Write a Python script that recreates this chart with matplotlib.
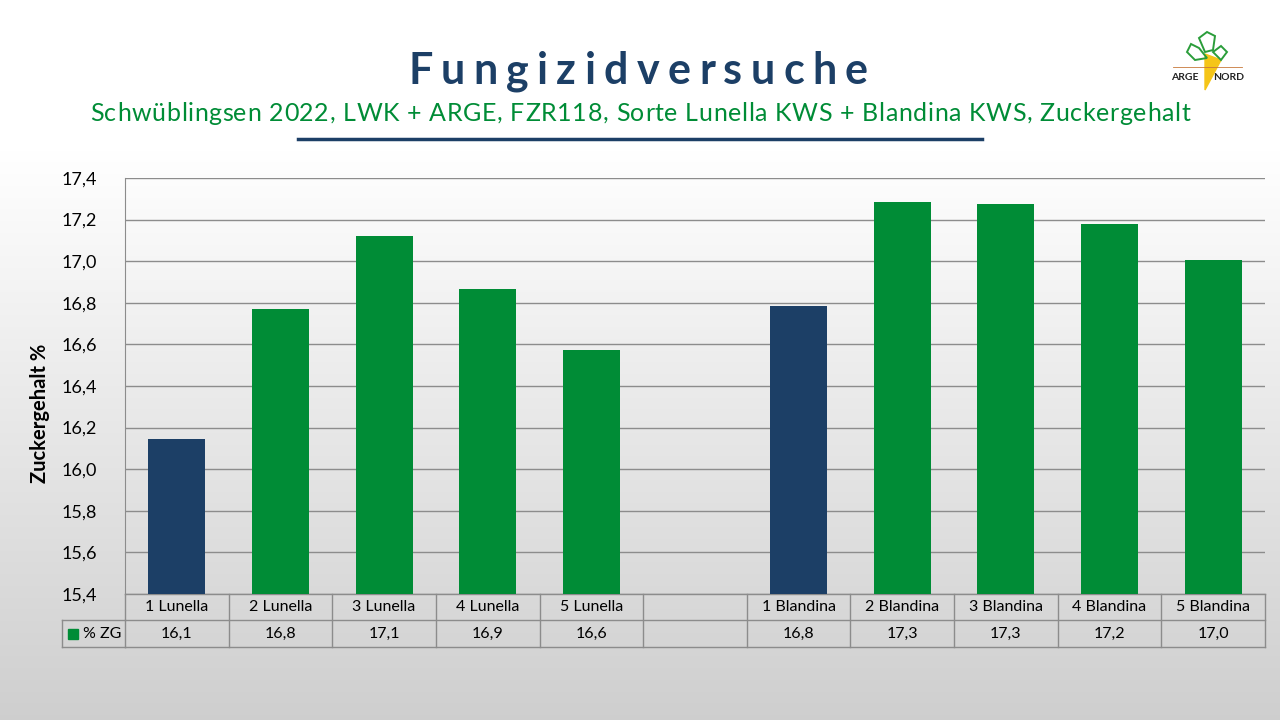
import numpy as np
import matplotlib.pyplot as plt
from matplotlib.patches import Polygon
import matplotlib.transforms as mtransforms

# data
categories = ["1 Lunella", "2 Lunella", "3 Lunella", "4 Lunella", "5 Lunella", "",
              "1 Blandina", "2 Blandina", "3 Blandina", "4 Blandina", "5 Blandina"]
zg = [16.145, 16.77, 17.12, 16.865, 16.575, np.nan, 16.785, 17.285, 17.275, 17.18, 17.005]
table_labels = ["16,1", "16,8", "17,1", "16,9", "16,6", "", "16,8", "17,3", "17,3", "17,2", "17,0"]
yticks = [15.4, 15.6, 15.8, 16.0, 16.2, 16.4, 16.6, 16.8, 17.0, 17.2, 17.4]

blue = "#1c3f66"
green = "#008c36"
colors = [blue if c.startswith("1 ") else green for c in categories]

plt.rcParams['font.family'] = ['Lato', 'DejaVu Sans']

fig = plt.figure(figsize=(12.8, 7.2), dpi=100)

# background gradient
bg = fig.add_axes([0, 0, 1, 1], zorder=-10)
grad = np.ones((720, 1))
rows = np.arange(720)
grad[:, 0] = np.where(rows < 150, 1.0, 1.0 - (rows - 150) / (720 - 150) * 0.19)
bg.imshow(np.dstack([grad, grad, grad]), aspect='auto', extent=[0, 1, 0, 1], origin='upper')
bg.axis('off')

ax = fig.add_axes([125 / 1280, (720 - 594) / 720, 1140 / 1280, 416 / 720])
ax.patch.set_alpha(0)
x = np.arange(len(categories))
ax.bar(x, np.nan_to_num(np.array(zg) - 15.4), bottom=15.4, width=0.55, color=colors, zorder=3)
ax.set_xlim(-0.5, len(categories) - 0.5)
ax.set_ylim(15.4, 17.4)
ax.set_yticks(yticks)
ax.set_yticklabels([f"{v:.1f}".replace(".", ",") for v in yticks], fontsize=13)
ax.yaxis.grid(True, color="#8c8c8c", linewidth=1, zorder=0)
ax.tick_params(axis='y', length=0, pad=20)
ax.set_xticks([])
for s in ["top", "right", "bottom"]:
    ax.spines[s].set_visible(False)
ax.spines["left"].set_color("#8c8c8c")
ax.set_ylabel("Zuckergehalt %", fontsize=14.5, fontweight="bold")
ax.yaxis.set_label_coords(-0.066, 0.435)

# data table below the axis
tr = mtransforms.blended_transform_factory(ax.transData, ax.transAxes)
h1 = 26 / 416
h2 = 53 / 416
lc = "#8c8c8c"
n = len(categories)
for yy in [0, -h1, -h2]:
    ax.plot([-0.5, n - 0.5], [yy, yy], color=lc, lw=1, transform=tr, clip_on=False)
leg_left = -63 / 1140
ax.plot([leg_left, 0], [-h1, -h1], color=lc, lw=1, transform=ax.transAxes, clip_on=False)
ax.plot([leg_left, 0], [-h2, -h2], color=lc, lw=1, transform=ax.transAxes, clip_on=False)
ax.plot([leg_left, leg_left], [-h1, -h2], color=lc, lw=1, transform=ax.transAxes, clip_on=False)
for i in range(n + 1):
    ax.plot([i - 0.5, i - 0.5], [0, -h2], color=lc, lw=1, transform=tr, clip_on=False)
for i, (c, v) in enumerate(zip(categories, table_labels)):
    ax.text(i, -h1 / 2, c, ha="center", va="center", fontsize=11.5, transform=tr)
    ax.text(i, -(h1 + h2) / 2, v, ha="center", va="center", fontsize=11.5, transform=tr)
ax.plot([-52 / 1140], [-(h1 + h2) / 2], marker="s", color=green, markersize=7,
        transform=ax.transAxes, clip_on=False)
ax.text(-42 / 1140, -(h1 + h2) / 2, "% ZG", ha="left", va="center", fontsize=11.5,
        transform=ax.transAxes)


def spaced_text(s, left, right, ybase, size, weight, color):
    # place characters one by one so the line fills a given width
    fig.canvas.draw()
    r = fig.canvas.get_renderer()
    ws = []
    for ch in s:
        t = fig.text(0, 0, ch, fontsize=size, fontweight=weight)
        w = t.get_window_extent(r).width
        if ch == " ":
            t.set_text("a a")
            w = t.get_window_extent(r).width
            t.set_text("aa")
            w -= t.get_window_extent(r).width
        ws.append(w)
        t.remove()
    sp = (right - left - sum(ws)) / (len(s) - 1)
    xp = left
    for ch, w in zip(s, ws):
        fig.text(xp / 1280, 1 - ybase / 720, ch, fontsize=size, fontweight=weight,
                 color=color, ha="left", va="baseline")
        xp += w + sp


spaced_text("Fungizidversuche", 408, 868, 84, 31, "bold", blue)
spaced_text("Schwüblingsen 2022, LWK + ARGE, FZR118, Sorte Lunella KWS + Blandina KWS, Zuckergehalt",
            90, 1190, 121, 18, "normal", green)
fig.add_artist(plt.Line2D([298 / 1280, 982 / 1280], [1 - 139 / 720] * 2, color=blue, lw=2.5))

# simple logo
lg = fig.add_axes([1165 / 1280, 1 - 92 / 720, 85 / 1280, 62 / 720])
lg.set_xlim(0, 85)
lg.set_ylim(62, 0)
lg.axis('off')
lg.add_patch(Polygon([[40, 24], [56, 30], [40, 60]], closed=True, color="#f5c518"))
lg.add_patch(Polygon([[22, 22], [26, 14], [34, 18], [42, 28], [30, 30]], closed=True,
                     fill=False, edgecolor="#2a9d3a", lw=1.4))
lg.add_patch(Polygon([[34, 8], [42, 2], [50, 6], [48, 20], [40, 22]], closed=True,
                     fill=False, edgecolor="#2a9d3a", lw=1.4))
lg.add_patch(Polygon([[48, 22], [56, 16], [62, 22], [56, 30]], closed=True,
                     fill=False, edgecolor="#2a9d3a", lw=1.4))
lg.plot([8, 77], [37, 37], color="#c8783a", lw=0.6)
lg.text(20, 48, "ARGE", fontsize=7.5, fontweight="bold", color="#222222", ha="center", va="center")
lg.text(64, 48, "NORD", fontsize=7.5, fontweight="bold", color="#222222", ha="center", va="center")

fig.savefig("out.png", dpi=100)
